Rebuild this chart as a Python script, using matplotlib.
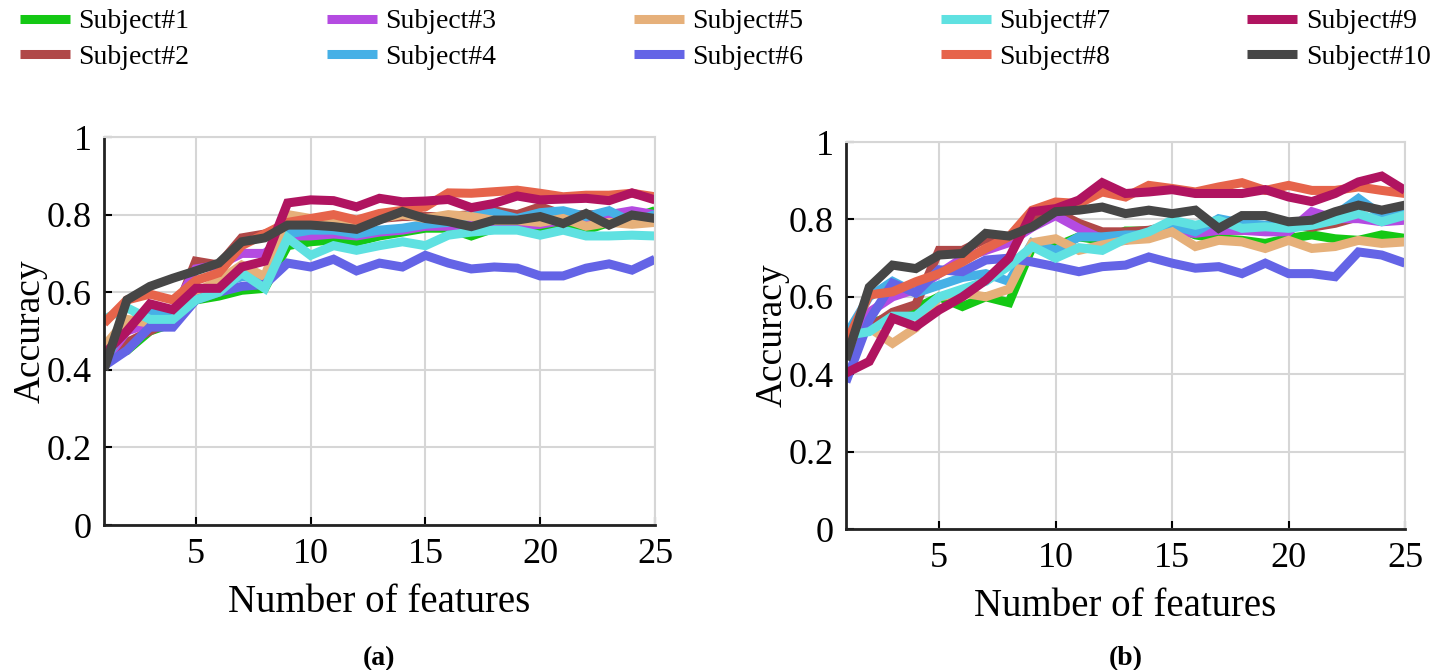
import matplotlib.pyplot as plt

plt.rcParams['font.family'] = ['Liberation Serif', 'DejaVu Serif']

features = list(range(1, 26))
labels = ['Subject#%d' % i for i in range(1, 11)]
colors = ['#14c814', '#b04848', '#b44be1', '#46b0e6', '#e6b07a',
          '#6464e6', '#5fe1e1', '#e6644b', '#b01460', '#464646']

# panel (a)
acc_a_s1 = [0.43, 0.45, 0.50, 0.52, 0.58, 0.59, 0.605, 0.61, 0.72, 0.73, 0.735, 0.73, 0.745, 0.755, 0.765, 0.765, 0.745, 0.765, 0.77, 0.76, 0.77, 0.76, 0.78, 0.79, 0.81]
acc_a_s2 = [0.44, 0.47, 0.50, 0.53, 0.68, 0.67, 0.74, 0.75, 0.77, 0.78, 0.785, 0.78, 0.79, 0.795, 0.795, 0.795, 0.80, 0.81, 0.80, 0.82, 0.80, 0.80, 0.80, 0.795, 0.79]
acc_a_s3 = [0.42, 0.50, 0.52, 0.55, 0.66, 0.67, 0.70, 0.70, 0.745, 0.745, 0.75, 0.745, 0.755, 0.76, 0.77, 0.77, 0.775, 0.78, 0.77, 0.775, 0.785, 0.78, 0.80, 0.81, 0.80]
acc_a_s4 = [0.42, 0.52, 0.55, 0.55, 0.60, 0.62, 0.64, 0.64, 0.75, 0.76, 0.76, 0.75, 0.76, 0.765, 0.775, 0.78, 0.80, 0.805, 0.79, 0.805, 0.81, 0.795, 0.81, 0.78, 0.80]
acc_a_s5 = [0.46, 0.53, 0.52, 0.52, 0.60, 0.63, 0.67, 0.64, 0.80, 0.79, 0.79, 0.785, 0.79, 0.80, 0.79, 0.80, 0.795, 0.785, 0.785, 0.78, 0.79, 0.77, 0.78, 0.775, 0.78]
acc_a_s6 = [0.41, 0.45, 0.51, 0.51, 0.58, 0.60, 0.615, 0.62, 0.675, 0.665, 0.685, 0.655, 0.675, 0.665, 0.695, 0.675, 0.66, 0.665, 0.662, 0.642, 0.642, 0.662, 0.673, 0.657, 0.685]
acc_a_s7 = [0.53, 0.56, 0.53, 0.53, 0.58, 0.60, 0.65, 0.61, 0.74, 0.695, 0.72, 0.708, 0.72, 0.73, 0.72, 0.747, 0.755, 0.76, 0.76, 0.747, 0.76, 0.745, 0.745, 0.747, 0.745]
acc_a_s8 = [0.52, 0.58, 0.595, 0.58, 0.63, 0.65, 0.72, 0.75, 0.78, 0.79, 0.80, 0.786, 0.803, 0.811, 0.82, 0.856, 0.855, 0.859, 0.863, 0.855, 0.846, 0.85, 0.85, 0.855, 0.846]
acc_a_s9 = [0.44, 0.50, 0.57, 0.555, 0.61, 0.61, 0.665, 0.68, 0.83, 0.838, 0.836, 0.82, 0.842, 0.833, 0.835, 0.839, 0.818, 0.829, 0.848, 0.838, 0.84, 0.842, 0.836, 0.856, 0.838]
acc_a_s10 = [0.40, 0.58, 0.615, 0.636, 0.655, 0.675, 0.73, 0.74, 0.773, 0.773, 0.769, 0.762, 0.786, 0.808, 0.79, 0.782, 0.769, 0.786, 0.786, 0.795, 0.777, 0.803, 0.773, 0.799, 0.79]

# panel (b)
acc_b_s1 = [0.48, 0.53, 0.55, 0.57, 0.60, 0.575, 0.60, 0.585, 0.73, 0.73, 0.755, 0.746, 0.77, 0.77, 0.785, 0.76, 0.75, 0.746, 0.738, 0.751, 0.76, 0.75, 0.746, 0.76, 0.751]
acc_b_s2 = [0.50, 0.52, 0.56, 0.58, 0.72, 0.72, 0.75, 0.75, 0.80, 0.82, 0.79, 0.768, 0.768, 0.772, 0.785, 0.765, 0.772, 0.772, 0.776, 0.785, 0.78, 0.79, 0.807, 0.80, 0.807]
acc_b_s3 = [0.45, 0.56, 0.60, 0.62, 0.66, 0.70, 0.72, 0.74, 0.78, 0.81, 0.777, 0.75, 0.746, 0.764, 0.768, 0.764, 0.772, 0.772, 0.768, 0.768, 0.82, 0.802, 0.802, 0.794, 0.798]
acc_b_s4 = [0.50, 0.60, 0.64, 0.61, 0.63, 0.65, 0.66, 0.64, 0.74, 0.72, 0.755, 0.755, 0.76, 0.76, 0.785, 0.768, 0.802, 0.79, 0.785, 0.785, 0.798, 0.811, 0.854, 0.811, 0.824]
acc_b_s5 = [0.46, 0.52, 0.48, 0.52, 0.60, 0.61, 0.60, 0.62, 0.74, 0.75, 0.72, 0.734, 0.746, 0.75, 0.768, 0.73, 0.746, 0.742, 0.725, 0.746, 0.725, 0.73, 0.746, 0.738, 0.742]
acc_b_s6 = [0.38, 0.54, 0.635, 0.61, 0.67, 0.665, 0.695, 0.70, 0.69, 0.678, 0.665, 0.678, 0.682, 0.703, 0.687, 0.674, 0.678, 0.66, 0.687, 0.66, 0.66, 0.652, 0.716, 0.708, 0.687]
acc_b_s7 = [0.50, 0.51, 0.55, 0.55, 0.60, 0.62, 0.64, 0.68, 0.73, 0.70, 0.727, 0.72, 0.75, 0.768, 0.798, 0.785, 0.798, 0.777, 0.781, 0.777, 0.785, 0.798, 0.815, 0.794, 0.811]
acc_b_s8 = [0.48, 0.605, 0.613, 0.639, 0.66, 0.69, 0.725, 0.755, 0.824, 0.845, 0.841, 0.871, 0.858, 0.888, 0.88, 0.871, 0.884, 0.895, 0.875, 0.888, 0.875, 0.875, 0.884, 0.875, 0.867]
acc_b_s9 = [0.403, 0.433, 0.545, 0.523, 0.566, 0.60, 0.643, 0.70, 0.82, 0.828, 0.85, 0.895, 0.867, 0.871, 0.877, 0.867, 0.867, 0.867, 0.877, 0.858, 0.846, 0.867, 0.897, 0.912, 0.875]
acc_b_s10 = [0.437, 0.625, 0.682, 0.673, 0.708, 0.712, 0.764, 0.757, 0.781, 0.82, 0.824, 0.832, 0.815, 0.824, 0.815, 0.824, 0.777, 0.81, 0.81, 0.794, 0.798, 0.82, 0.837, 0.824, 0.837]

series_a = [acc_a_s1, acc_a_s2, acc_a_s3, acc_a_s4, acc_a_s5, acc_a_s6, acc_a_s7, acc_a_s8, acc_a_s9, acc_a_s10]
series_b = [acc_b_s1, acc_b_s2, acc_b_s3, acc_b_s4, acc_b_s5, acc_b_s6, acc_b_s7, acc_b_s8, acc_b_s9, acc_b_s10]

fig = plt.figure(figsize=(14.5, 6.7), dpi=100)
ax_a = fig.add_axes([0.0717, 0.2164, 0.380, 0.5791])
ax_b = fig.add_axes([0.5834, 0.2104, 0.3856, 0.5776])


def draw_panel(ax, series, tag, tag_y):
    for vals, c, lab in zip(series, colors, labels):
        ax.plot(features, vals, color=c, lw=6.5, label=lab,
                solid_joinstyle='miter', solid_capstyle='butt')
    ax.set_xlim(1, 25)
    ax.set_ylim(0, 1)
    ax.set_xticks([5, 10, 15, 20, 25])
    ax.set_yticks([0, 0.2, 0.4, 0.6, 0.8, 1])
    ax.set_yticklabels(['0', '0.2', '0.4', '0.6', '0.8', '1'])
    ax.grid(True, color='#d6d6d6', lw=1.5)
    ax.set_axisbelow(True)
    for s in ['top', 'right']:
        ax.spines[s].set_color('#d6d6d6')
        ax.spines[s].set_linewidth(1.5)
    for s in ['left', 'bottom']:
        ax.spines[s].set_color('#222222')
        ax.spines[s].set_linewidth(2)
    ax.tick_params(direction='in', length=6, width=1.5, labelsize=26, pad=9)
    ax.set_xlabel('Number of features', fontsize=28, labelpad=10)
    ax.set_ylabel('Accuracy', fontsize=27, labelpad=-1)
    ax.text(0.5, tag_y, tag, transform=ax.transAxes, ha='center', va='center',
            fontsize=20, fontweight='bold')


draw_panel(ax_a, series_a, '(a)', -0.345)
draw_panel(ax_b, series_b, '(b)', -0.335)

handles, _ = ax_a.get_legend_handles_labels()
fig.legend(handles, labels, loc='upper left', bbox_to_anchor=(0.01, 0.995), ncol=5,
           frameon=False, fontsize=20, handlelength=1.8, handletextpad=0.3,
           columnspacing=4.95, labelspacing=0.35, borderaxespad=0, borderpad=0.2)

fig.savefig('out.png', dpi=100)
